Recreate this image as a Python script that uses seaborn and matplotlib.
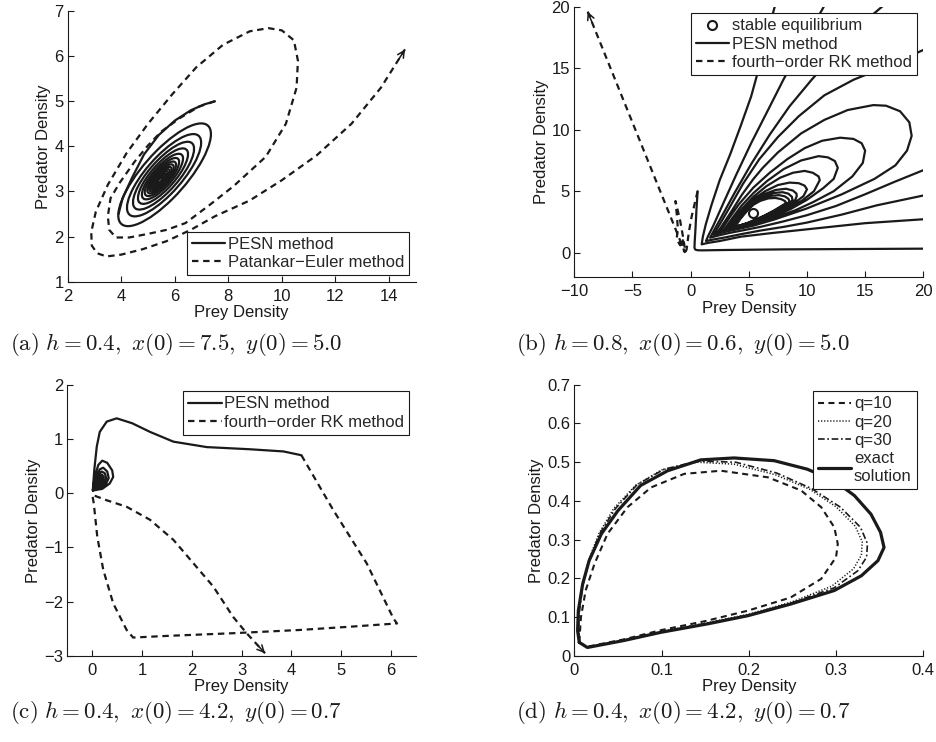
import numpy as np
import pandas as pd
import seaborn as sns
import matplotlib
matplotlib.use("Agg")
import matplotlib.pyplot as plt
from matplotlib.lines import Line2D
from matplotlib.patches import Ellipse

# ---------------- data (a) ----------------
a_pesn_start_x = [7.5, 7.1, 6.6, 6.0, 5.4, 4.85, 4.4, 4.05, 3.9]
a_pesn_start_y = [5.0, 4.93, 4.8, 4.57, 4.25, 3.82, 3.3, 2.85, 2.5]
a_loop_cx = [5.62, 5.60, 5.58, 5.56, 5.54, 5.52, 5.51, 5.50, 5.49, 5.48, 5.47, 5.46, 5.46, 5.45, 5.45]
a_loop_cy = [3.37, 3.36, 3.35, 3.34, 3.33, 3.32, 3.31, 3.30, 3.29, 3.28, 3.27, 3.26, 3.26, 3.25, 3.25]
a_loop_w = [3.96, 3.17, 2.61, 2.14, 1.76, 1.47, 1.23, 1.05, 0.89, 0.75, 0.63, 0.51, 0.42, 0.32, 0.24]
a_loop_h = [1.22, 0.98, 0.81, 0.66, 0.54, 0.45, 0.38, 0.32, 0.27, 0.23, 0.20, 0.16, 0.13, 0.10, 0.07]
a_loop_angle = 30.7
a_pe_x = [7.5, 6.9, 6.2, 5.5, 5.0, 4.5, 3.95, 3.6, 3.5, 3.55, 3.8, 4.3, 5.0, 5.7, 6.4, 7.3, 8.2, 9.4,
          10.15, 10.55, 10.6, 10.45, 10.0, 9.5, 8.8, 7.8, 6.8, 5.9, 5.0, 4.2, 3.5, 3.05, 2.88, 2.9,
          3.1, 3.45, 4.0, 4.8, 5.7, 6.6, 7.5, 8.8, 10.0, 11.3, 12.6, 13.7, 14.6]
a_pe_y = [5.0, 4.88, 4.63, 4.33, 4.02, 3.66, 3.2, 2.85, 2.45, 2.15, 1.98, 1.98, 2.06, 2.15, 2.3, 2.7,
          3.12, 3.77, 4.5, 5.3, 5.9, 6.35, 6.57, 6.62, 6.55, 6.25, 5.75, 5.15, 4.5, 3.85, 3.15, 2.55,
          2.1, 1.8, 1.63, 1.56, 1.6, 1.72, 1.9, 2.15, 2.45, 2.8, 3.25, 3.8, 4.5, 5.3, 6.15]

# ---------------- data (b) ----------------
b_eq = (5.4, 3.2)
b_seg_x = [
    [0.6, 0.5, 0.42, 0.35, 0.33, 0.4, 0.6, 1.0, 3.0, 8.0, 14.0, 20.5],
    [7.4, 6.6, 5.9, 5.2, 4.3, 3.4, 2.5, 1.8, 1.3, 1.05, 0.95, 1.5, 2.5, 4.3, 7.0, 10.0, 15.0, 20.5],
    [11.8, 10.5, 9.2, 7.97, 6.6, 5.2, 3.9, 2.8, 1.95, 1.5, 1.32, 2.0, 3.0, 4.3, 6.0, 8.0, 10.0, 13.0, 16.0, 20.5],
    [17.2, 15.2, 12.7, 10.4, 8.5, 6.8, 5.2, 3.8, 2.7, 2.0, 1.67, 2.3, 3.3, 4.5, 6.0, 8.0, 10.0, 12.5, 15.0, 17.5, 20.5],
    [20.5, 17.5, 14.0, 11.5, 9.3, 7.5, 5.9, 4.5, 3.3, 2.5, 2.1, 1.95],
]
b_seg_y = [
    [5.0, 3.5, 2.0, 0.9, 0.4, 0.25, 0.2, 0.19, 0.22, 0.27, 0.3, 0.33],
    [20.6, 17.8, 15.1, 12.7, 10.3, 8.0, 5.9, 3.9, 2.3, 1.3, 0.68, 0.8, 0.95, 1.3, 1.6, 1.9, 2.4, 2.75],
    [20.6, 18.4, 16.2, 14.06, 11.5, 8.9, 6.3, 4.0, 2.2, 1.35, 0.95, 1.08, 1.25, 1.5, 1.8, 2.1, 2.45, 3.1, 3.85, 4.75],
    [20.6, 19.0, 16.5, 14.06, 11.9, 9.6, 7.2, 4.9, 3.0, 1.8, 1.22, 1.38, 1.6, 1.82, 2.1, 2.55, 3.05, 3.8, 4.75, 5.75, 6.9],
    [16.7, 15.4, 14.06, 12.8, 11.1, 9.4, 7.6, 5.6, 3.6, 2.3, 1.7, 1.44],
]
b_loops_x = [
    [3.0, 4.2, 5.4, 7.2, 10.0, 13.0, 15.8, 17.6, 18.6, 19.0, 18.8, 18.0, 16.8, 15.7, 13.5, 11.5, 9.5, 7.5, 6.2, 5.4, 4.4, 3.4, 2.6, 2.25],
    [3.2, 4.3, 5.4, 7.2, 9.0, 10.5, 12.3, 13.9, 14.8, 15.0, 14.7, 14.0, 12.85, 11.3, 9.8, 8.3, 6.8, 5.4, 4.2, 3.3, 2.55],
    [3.5, 4.5, 5.4, 7.0, 8.6, 10.0, 11.4, 12.3, 12.65, 12.4, 11.8, 11.0, 9.5, 8.0, 6.6, 5.4, 4.4, 3.5, 2.85],
    [3.8, 4.6, 5.4, 7.0, 8.4, 9.6, 10.6, 11.1, 11.0, 10.5, 9.8, 8.8, 7.7, 6.5, 5.4, 4.5, 3.7, 3.1],
    [4.0, 4.7, 5.4, 6.8, 8.0, 9.0, 9.7, 10.0, 9.8, 9.3, 8.5, 7.5, 6.4, 5.4, 4.6, 3.9, 3.3],
    [4.1, 4.8, 5.4, 6.6, 7.6, 8.5, 9.0, 9.12, 9.1, 8.8, 8.2, 7.3, 6.3, 5.4, 4.7, 4.0, 3.45],
    [4.2, 4.9, 5.4, 6.5, 7.5, 8.3, 8.7, 8.75, 8.7, 8.4, 7.9, 7.1, 6.2, 5.4, 4.8, 4.1, 3.6],
    [4.3, 5.0, 5.4, 6.4, 7.3, 8.0, 8.4, 8.5, 8.4, 8.1, 7.6, 6.9, 6.1, 5.4, 4.85, 4.2, 3.7],
    [4.4, 5.0, 5.4, 6.3, 7.2, 7.8, 8.15, 8.2, 8.1, 7.8, 7.3, 6.7, 6.0, 5.4, 4.9, 4.3, 3.8],
]
b_loops_y = [
    [1.7, 1.95, 2.2, 2.7, 3.6, 4.75, 6.0, 7.1, 8.3, 9.5, 10.6, 11.5, 11.95, 12.0, 11.6, 10.8, 9.7, 8.15, 6.9, 6.0, 4.7, 3.2, 2.05, 1.6],
    [1.85, 2.07, 2.3, 2.85, 3.45, 4.1, 5.0, 6.2, 7.3, 8.3, 8.9, 9.25, 9.35, 9.1, 8.5, 7.6, 6.5, 5.3, 4.0, 2.8, 1.72],
    [1.95, 2.15, 2.38, 2.9, 3.55, 4.3, 5.25, 6.0, 6.9, 7.45, 7.75, 7.85, 7.5, 6.8, 5.85, 4.85, 3.85, 2.7, 1.82],
    [2.05, 2.22, 2.45, 3.0, 3.6, 4.25, 5.0, 5.9, 6.2, 6.5, 6.65, 6.5, 6.1, 5.4, 4.55, 3.65, 2.7, 1.9],
    [2.12, 2.3, 2.5, 3.0, 3.55, 4.1, 4.6, 5.15, 5.45, 5.65, 5.7, 5.5, 5.0, 4.35, 3.55, 2.75, 1.95],
    [2.17, 2.36, 2.54, 2.97, 3.42, 3.92, 4.3, 4.6, 4.8, 5.05, 5.2, 5.1, 4.75, 4.2, 3.55, 2.75, 2.0],
    [2.2, 2.4, 2.57, 2.98, 3.45, 3.9, 4.2, 4.32, 4.55, 4.8, 4.92, 4.85, 4.55, 4.08, 3.55, 2.75, 2.02],
    [2.23, 2.43, 2.6, 3.0, 3.45, 3.85, 4.05, 4.18, 4.38, 4.58, 4.68, 4.62, 4.38, 3.98, 3.5, 2.75, 2.05],
    [2.26, 2.46, 2.63, 3.0, 3.45, 3.8, 4.0, 4.08, 4.2, 4.35, 4.45, 4.42, 4.22, 3.9, 3.45, 2.78, 2.1],
]
b_rk_x = [0.6, 0.35, 0.1, -0.15, -0.35, -0.45, -0.6, -0.9, -1.3, -1.2, -1.1, -1.2, -0.9, -0.65, -0.75, -0.5, -8.85]
b_rk_y = [5.0, 4.0, 3.0, 1.7, 0.25, 0.05, 1.0, 2.6, 4.2, 3.2, 2.0, 1.1, 0.6, 1.1, 0.4, 0.05, 19.6]

# ---------------- data (c) ----------------
c_pesn_x = [4.2, 3.84, 3.17, 2.3, 1.63, 1.16, 0.8, 0.49, 0.29, 0.15, 0.09, 0.04, 0.01,
            0.2, 0.35, 0.42, 0.4, 0.3, 0.2, 0.12, 0.05, 0.01,
            0.15, 0.28, 0.33, 0.3, 0.22, 0.15, 0.07, 0.02,
            0.14, 0.24, 0.28, 0.25, 0.19, 0.12, 0.07, 0.04,
            0.13, 0.21, 0.23, 0.2, 0.15, 0.1, 0.06,
            0.13, 0.18, 0.18, 0.14, 0.1, 0.08, 0.13, 0.15, 0.12]
c_pesn_y = [0.7, 0.77, 0.81, 0.85, 0.95, 1.13, 1.29, 1.38, 1.32, 1.13, 0.86, 0.43, 0.05,
            0.08, 0.18, 0.3, 0.42, 0.56, 0.6, 0.52, 0.3, 0.05,
            0.1, 0.18, 0.28, 0.4, 0.47, 0.44, 0.28, 0.07,
            0.12, 0.2, 0.28, 0.37, 0.4, 0.35, 0.25, 0.1,
            0.15, 0.22, 0.29, 0.34, 0.34, 0.27, 0.15,
            0.19, 0.25, 0.3, 0.3, 0.24, 0.18, 0.22, 0.26, 0.26]
c_rk_x = [4.2, 4.84, 5.51, 6.05, 6.12, 5.18, 4.17, 2.83, 1.49, 0.82, 0.69, 0.42, 0.22, 0.1, 0.03, 0.0,
          0.29, 0.69, 1.16, 1.63, 2.03, 2.43, 2.83, 3.1, 3.47]
c_rk_y = [0.7, -0.31, -1.29, -2.31, -2.4, -2.46, -2.52, -2.58, -2.63, -2.66, -2.52, -2.03, -1.41, -0.8,
          -0.19, -0.03, -0.13, -0.25, -0.49, -0.86, -1.29, -1.72, -2.28, -2.58, -2.95]

# ---------------- data (d) ----------------
d_exact_x = [0.0057, 0.015, 0.057, 0.099, 0.153, 0.199, 0.248, 0.298, 0.329, 0.348, 0.355, 0.351, 0.340,
             0.321, 0.298, 0.267, 0.229, 0.183, 0.145, 0.107, 0.076, 0.050, 0.031, 0.017, 0.0096, 0.0046,
             0.0038, 0.0057]
d_exact_y = [0.035, 0.022, 0.040, 0.061, 0.083, 0.104, 0.134, 0.169, 0.207, 0.246, 0.280, 0.319, 0.366,
             0.414, 0.452, 0.482, 0.504, 0.511, 0.506, 0.478, 0.440, 0.375, 0.315, 0.246, 0.186, 0.117,
             0.065, 0.035]
d_q10_x = [0.0057, 0.015, 0.057, 0.100, 0.150, 0.199, 0.248, 0.283, 0.300, 0.302, 0.298, 0.283, 0.260,
           0.222, 0.168, 0.126, 0.088, 0.061, 0.038, 0.023, 0.013, 0.0076, 0.0057]
d_q10_y = [0.035, 0.024, 0.043, 0.067, 0.090, 0.117, 0.151, 0.199, 0.255, 0.289, 0.332, 0.384, 0.427,
           0.461, 0.478, 0.470, 0.435, 0.384, 0.315, 0.237, 0.169, 0.100, 0.035]
d_q20_x = [0.0057, 0.015, 0.057, 0.100, 0.153, 0.200, 0.250, 0.295, 0.320, 0.329, 0.330, 0.322, 0.300,
           0.270, 0.230, 0.183, 0.140, 0.100, 0.070, 0.045, 0.028, 0.016, 0.009, 0.005, 0.0057]
d_q20_y = [0.035, 0.023, 0.041, 0.063, 0.086, 0.108, 0.140, 0.180, 0.225, 0.260, 0.295, 0.335, 0.385,
           0.430, 0.468, 0.495, 0.500, 0.480, 0.440, 0.380, 0.315, 0.245, 0.175, 0.100, 0.035]
d_q30_x = [0.0057, 0.015, 0.057, 0.100, 0.153, 0.200, 0.250, 0.298, 0.325, 0.335, 0.336, 0.328, 0.305,
           0.272, 0.232, 0.185, 0.142, 0.103, 0.072, 0.047, 0.029, 0.017, 0.0095, 0.005, 0.0057]
d_q30_y = [0.035, 0.022, 0.040, 0.062, 0.085, 0.106, 0.138, 0.176, 0.220, 0.255, 0.290, 0.332, 0.384,
           0.432, 0.472, 0.500, 0.503, 0.482, 0.442, 0.380, 0.315, 0.245, 0.180, 0.100, 0.035]

captions = [r"$\mathrm{(a)}\ h=0.4,\ x(0)=7.5,\ y(0)=5.0$",
            r"$\mathrm{(b)}\ h=0.8,\ x(0)=0.6,\ y(0)=5.0$",
            r"$\mathrm{(c)}\ h=0.4,\ x(0)=4.2,\ y(0)=0.7$",
            r"$\mathrm{(d)}\ h=0.4,\ x(0)=4.2,\ y(0)=0.7$"]

# ---------------- styling ----------------
sns.set_theme(style="ticks")
plt.rcParams["font.family"] = ["Liberation Sans", "DejaVu Sans"]
plt.rcParams["mathtext.fontset"] = "cm"
plt.rcParams["axes.unicode_minus"] = True

LW = 1.6
DASH = (0, (2.9, 2.1))
FS = 12

W, H = 936, 742
fig = plt.figure(figsize=(W / 100, H / 100), dpi=100)
fig.patch.set_facecolor("white")


def mk_axes(left, top, right, bottom):
    return fig.add_axes([left / W, 1 - bottom / H, (right - left) / W, (bottom - top) / H])


ax_a = mk_axes(67.7, 11.0, 415.7, 281.7)
ax_b = mk_axes(574.3, 6.7, 923.3, 277.3)
ax_c = mk_axes(67.4, 384.7, 415.9, 656.0)
ax_d = mk_axes(574.3, 384.7, 923.3, 656.0)


def style(ax):
    ax.set_facecolor("white")
    for s in ["top", "right"]:
        ax.spines[s].set_visible(False)
    for s in ["left", "bottom"]:
        ax.spines[s].set_color("k")
        ax.spines[s].set_linewidth(0.8)
    ax.tick_params(direction="in", length=4, width=0.8, colors="k", labelsize=FS, pad=3,
                   bottom=True, left=True, top=False, right=False)
    ax.tick_params(axis="x", pad=5)
    ax.set_xlabel("Prey Density", fontsize=FS, labelpad=1, color="k")
    ax.set_ylabel("Predator Density", fontsize=FS, labelpad=2, color="k")
    ax.grid(False)


def line(ax, x, y, ls="-", lw=LW):
    sns.lineplot(x=x, y=y, sort=False, estimator=None, color="k", lw=lw, linestyle=ls, ax=ax,
                 legend=False)


def arrow(ax, x, y):
    p1 = ax.transData.transform((x[-2], y[-2]))
    p2 = ax.transData.transform((x[-1], y[-1]))
    d = (p2 - p1) / np.hypot(*(p2 - p1))
    ax.annotate("", xy=(x[-1], y[-1]), xytext=(-11 * d[0], -11 * d[1]), textcoords="offset pixels",
                arrowprops=dict(arrowstyle="->", color="k", lw=1.1, shrinkA=0, shrinkB=0,
                                mutation_scale=12))


def legend(ax, handles, labels, loc):
    lg = ax.legend(handles, labels, loc=loc, frameon=True, fancybox=False, edgecolor="k",
                   framealpha=1, fontsize=FS, handlelength=2.0, handletextpad=0.15,
                   borderpad=0.3, labelspacing=0.2, borderaxespad=0.4)
    lg.get_frame().set_linewidth(0.8)
    return lg


solid_h = Line2D([], [], color="k", lw=LW, ls="-")
dash_h = Line2D([], [], color="k", lw=LW, ls=DASH)

# ---- (a)
ax = ax_a
style(ax)
ax.set_xlim(2, 15)
ax.set_ylim(1, 7)
ax.set_xticks([2, 4, 6, 8, 10, 12, 14])
ax.set_yticks([1, 2, 3, 4, 5, 6, 7])
line(ax, a_pesn_start_x, a_pesn_start_y)
for cx, cy, w, h in zip(a_loop_cx, a_loop_cy, a_loop_w, a_loop_h):
    ax.add_patch(Ellipse((cx, cy), w, h, angle=a_loop_angle, fill=False, ec="k", lw=LW))
line(ax, a_pe_x, a_pe_y, ls=DASH)
arrow(ax, a_pe_x, a_pe_y)
legend(ax, [solid_h, dash_h], ["PESN method", "Patankar\u2212Euler method"], "lower right")

# ---- (b)
ax = ax_b
style(ax)
ax.set_xlim(-10, 20)
ax.set_ylim(-2, 20)
ax.set_xticks([-10, -5, 0, 5, 10, 15, 20])
ax.set_yticks([0, 5, 10, 15, 20])
for sx, sy in zip(b_seg_x[:-1], b_seg_y[:-1]):
    line(ax, sx, sy)
last_x = list(b_seg_x[-1])
last_y = list(b_seg_y[-1])
for lx, ly in zip(b_loops_x, b_loops_y):
    last_x += lx
    last_y += ly
line(ax, last_x, last_y)
line(ax, b_rk_x, b_rk_y, ls=DASH)
arrow(ax, b_rk_x, b_rk_y)
ax.plot([b_eq[0]], [b_eq[1]], "o", mfc="none", mec="k", mew=1.5, ms=6.5, zorder=5)
eq_h = Line2D([], [], color="k", ls="none", marker="o", mfc="none", mec="k", mew=1.5, ms=6.5)
legend(ax, [eq_h, solid_h, dash_h], ["stable equilibrium", "PESN method", "fourth\u2212order RK method"],
       "upper right")

# ---- (c)
ax = ax_c
style(ax)
ax.set_xlim(-0.5, 6.5)
ax.set_ylim(-3, 2)
ax.set_xticks([0, 1, 2, 3, 4, 5, 6])
ax.set_yticks([-3, -2, -1, 0, 1, 2])
line(ax, c_pesn_x, c_pesn_y)
line(ax, c_rk_x, c_rk_y, ls=DASH)
arrow(ax, c_rk_x, c_rk_y)
legend(ax, [solid_h, dash_h], ["PESN method", "fourth\u2212order RK method"], "upper right")

# ---- (d)
ax = ax_d
style(ax)
ax.set_xlim(0, 0.4)
ax.set_ylim(0, 0.7)
ax.set_xticks([0, 0.1, 0.2, 0.3, 0.4])
ax.set_xticklabels(["0", "0.1", "0.2", "0.3", "0.4"])
ax.set_yticks([0, 0.1, 0.2, 0.3, 0.4, 0.5, 0.6, 0.7])
ax.set_yticklabels(["0", "0.1", "0.2", "0.3", "0.4", "0.5", "0.6", "0.7"])
DOT = (0, (0.8, 1.2))
DASHDOT = (0, (4, 1.6, 1, 1.6))
line(ax, d_q10_x, d_q10_y, ls=DASH, lw=1.5)
line(ax, d_q20_x, d_q20_y, ls=DOT, lw=1.1)
line(ax, d_q30_x, d_q30_y, ls=DASHDOT, lw=1.2)
line(ax, d_exact_x, d_exact_y, lw=2.3)
hd = [Line2D([], [], color="k", lw=1.5, ls=DASH),
      Line2D([], [], color="k", lw=1.1, ls=DOT),
      Line2D([], [], color="k", lw=1.2, ls=DASHDOT),
      Line2D([], [], color="k", lw=2.3, ls="-")]
legend(ax, hd, ["q=10", "q=20", "q=30", "exact\nsolution"], "upper right")

# ---- captions
for (xp, yp), txt in zip([(10, 345), (516, 345), (10, 713), (516, 713)], captions):
    fig.text(xp / W, 1 - yp / H, txt, fontsize=16.5, ha="left", va="center", color="k")

fig.savefig("out.png", dpi=100, facecolor="white")
